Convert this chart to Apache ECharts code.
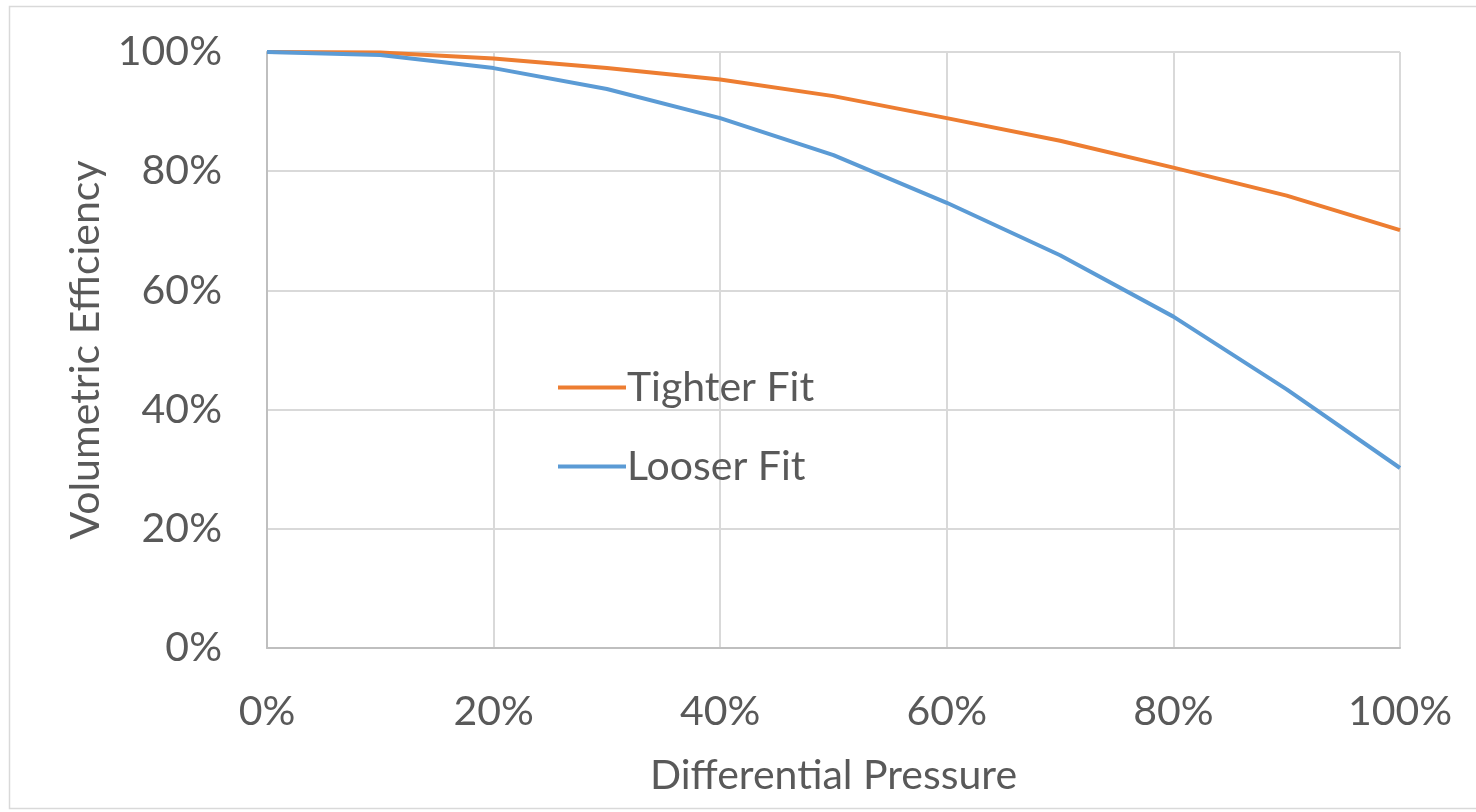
<!DOCTYPE html>
<html>
<head>
<meta charset="utf-8">
<script src="https://cdn.jsdelivr.net/npm/echarts@6/dist/echarts.min.js"></script>
<style>
  html, body { margin: 0; padding: 0; background: #fff; }
  #chart { width: 1476px; height: 812px; }
</style>
</head>
<body>
<div id="chart"></div>
<script>
// values, in percent
const pressure = [0, 10, 20, 30, 40, 50, 60, 70, 80, 90, 100];
const tighterFit = [100, 99.9, 98.9, 97.3, 95.4, 92.6, 88.9, 85.1, 80.6, 75.9, 70.1];
const looserFit = [100, 99.5, 97.3, 93.8, 88.9, 82.7, 74.7, 65.9, 55.6, 43.4, 30.2];

const textColor = '#595959';
const font = 'Lato';
const fontSize = 41;

function pairs(ys) {
    return pressure.map((x, i) => [x, ys[i]]);
}

const chart = echarts.init(document.getElementById('chart'));
chart.setOption({
    backgroundColor: '#ffffff',
    animation: false,
    textStyle: { fontFamily: font },
    graphic: [{
        type: 'rect',
        shape: { x: 9.5, y: 6.5, width: 1500, height: 802 },
        style: { fill: 'none', stroke: '#d9d9d9', lineWidth: 1.5 },
        silent: true
    }],
    grid: { left: 267, right: 76, top: 52, bottom: 164 },
    legend: {
        orient: 'vertical',
        left: 553,
        top: 362,
        itemGap: 38,
        itemWidth: 68,
        itemHeight: 4,
        icon: 'rect',
        textStyle: { color: textColor, fontSize: fontSize, fontFamily: font, padding: [0, 0, 0, -4] },
        data: ['Tighter Fit', 'Looser Fit']
    },
    xAxis: {
        type: 'value',
        min: 0,
        max: 100,
        interval: 20,
        name: 'Differential Pressure',
        nameLocation: 'middle',
        nameGap: 107,
        nameTextStyle: { color: textColor, fontSize: fontSize, fontFamily: font },
        axisLine: { show: true, lineStyle: { color: '#bfbfbf', width: 2 } },
        axisTick: { show: false },
        axisLabel: { color: textColor, fontSize: fontSize, fontFamily: font, margin: 43, formatter: '{value}%' },
        splitLine: { show: true, lineStyle: { color: '#d9d9d9', width: 2 } }
    },
    yAxis: {
        type: 'value',
        min: 0,
        max: 100,
        interval: 20,
        name: 'Volumetric Efficiency',
        nameLocation: 'middle',
        nameGap: 161,
        nameTextStyle: { color: textColor, fontSize: fontSize, fontFamily: font },
        axisLine: { show: true, lineStyle: { color: '#bfbfbf', width: 2 } },
        axisTick: { show: false },
        axisLabel: { color: textColor, fontSize: fontSize, fontFamily: font, margin: 45, formatter: '{value}%' },
        splitLine: { show: true, lineStyle: { color: '#d9d9d9', width: 2 } }
    },
    series: [
        {
            name: 'Tighter Fit',
            type: 'line',
            data: pairs(tighterFit),
            showSymbol: false,
            color: '#ed7d31',
            lineStyle: { width: 4, color: '#ed7d31' }
        },
        {
            name: 'Looser Fit',
            type: 'line',
            data: pairs(looserFit),
            showSymbol: false,
            color: '#5b9bd5',
            lineStyle: { width: 4, color: '#5b9bd5' }
        }
    ]
});
</script>
</body>
</html>
